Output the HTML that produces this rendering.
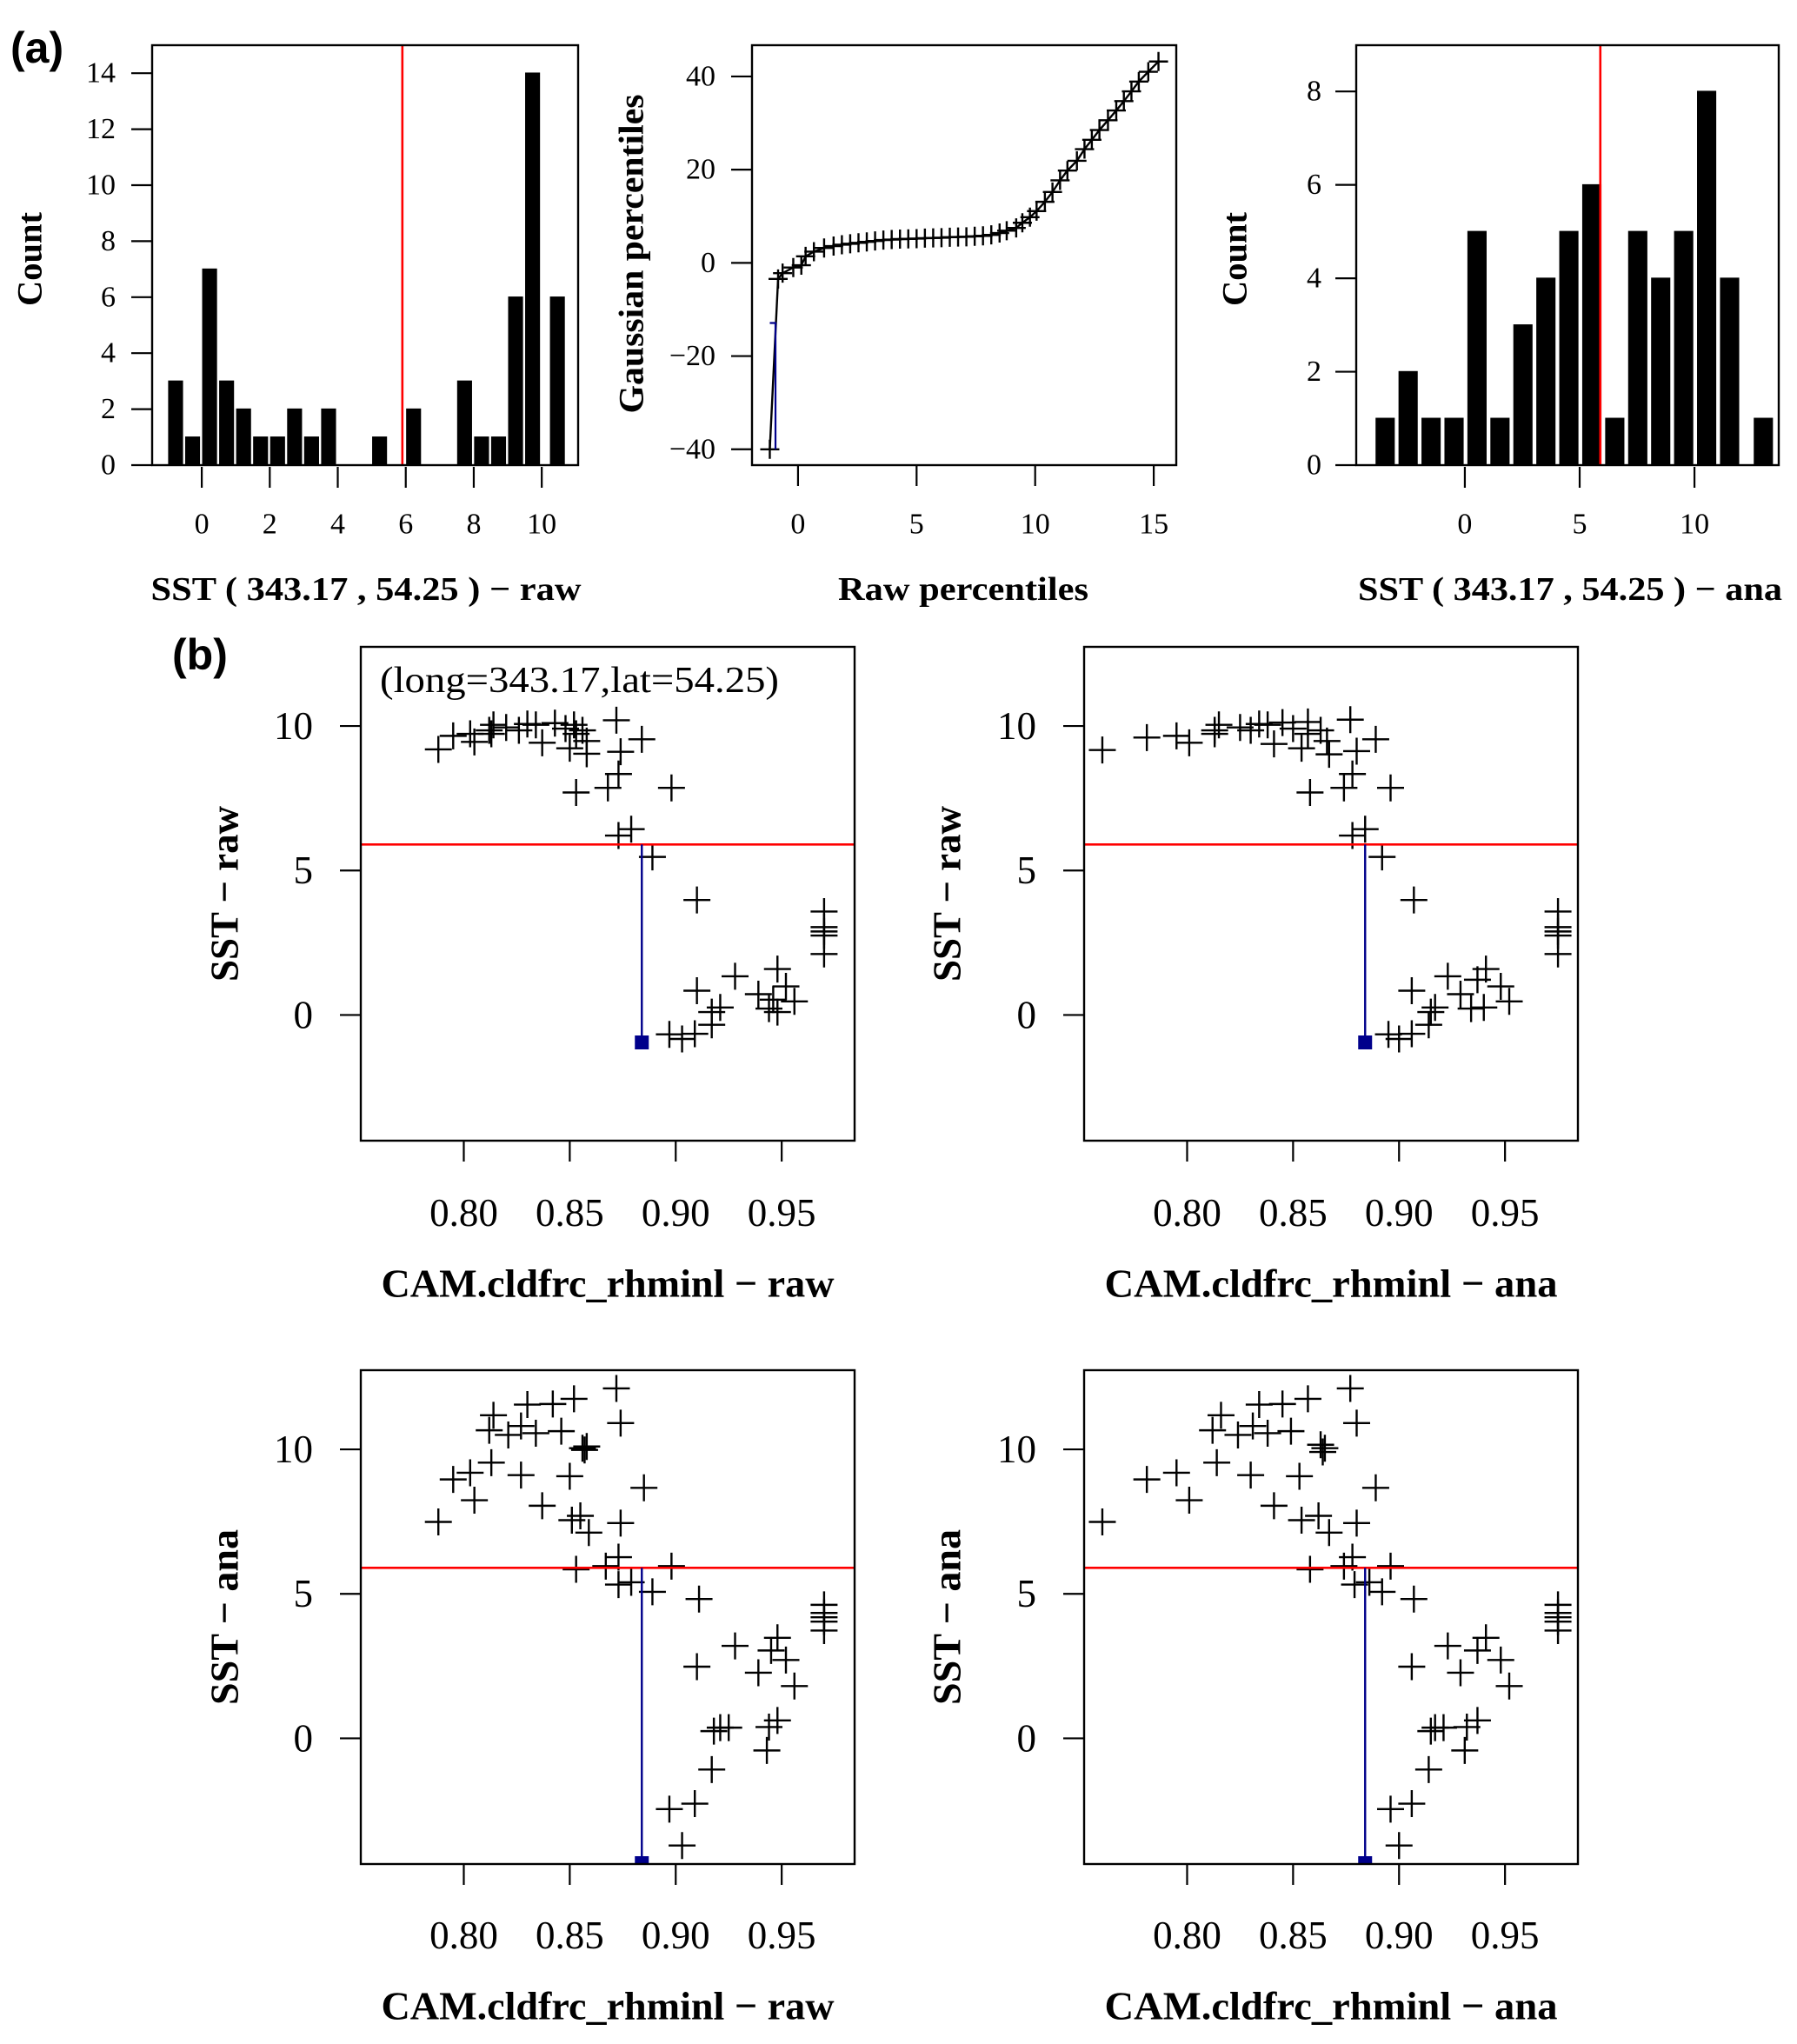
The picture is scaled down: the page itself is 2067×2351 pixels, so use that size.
<!DOCTYPE html>
<html><head><meta charset="utf-8">
<style>
html,body{margin:0;padding:0;background:#fff;}
svg{display:block;}
text{font-family:"Liberation Serif",serif;fill:#000;}
.bold{font-weight:bold;}
.sans{font-family:"Liberation Sans",sans-serif;font-weight:bold;}
</style></head>
<body>
<svg id="fig" width="2067" height="2351" viewBox="0 0 2067 2351" xmlns="http://www.w3.org/2000/svg"></svg>
<script>
// ---------- DATA ----------
const a1Centers=[-0.77,-0.27,0.23,0.73,1.23,1.73,2.23,2.73,3.23,3.73,5.23,6.23,7.73,8.23,8.73,9.23,9.73,10.46];
const a1Counts=[3,1,7,3,2,1,1,2,1,2,1,2,3,1,1,6,14,6];
const a1XTicks=[0,2,4,6,8,10];
const a1YTicks=[0,2,4,6,8,10,12,14];
const a3Centers=[-3.47,-2.47,-1.47,-0.47,0.53,1.53,2.53,3.53,4.53,5.53,6.53,7.53,8.53,9.53,10.53,11.53,13.0];
const a3Counts=[1,2,1,1,5,1,3,4,5,6,1,5,4,5,8,4,1];
const a3XTicks=[0,5,10];
const a3YTicks=[0,2,4,6,8];
const threshold=5.9;
const qqRaw=[-1.19,-0.84,-0.65,-0.2,0.14,0.32,0.67,1.1,1.5,1.85,2.2,2.55,2.9,3.25,3.6,3.95,4.3,4.65,5.0,5.35,5.7,6.05,6.4,6.75,7.1,7.45,7.8,8.15,8.5,8.8,9.2,9.46,9.78,10.06,10.41,10.73,11.05,11.36,11.76,12.08,12.39,12.71,13.07,13.42,13.74,14.06,14.37,14.77,15.2];
const qqGauss=[-40,-3.45,-2.2,-1.0,-0.5,1.4,2.4,3.2,3.6,3.9,4.1,4.3,4.5,4.7,4.9,5.0,5.1,5.15,5.2,5.3,5.35,5.4,5.5,5.55,5.6,5.7,5.8,6.0,6.4,6.9,7.5,8.6,9.8,11.1,13.1,15.2,17.7,19.8,21.9,24.4,26.4,28.5,30.6,32.7,34.7,36.8,38.9,41.0,43.2];
const qqXTicks=[0,5,10,15];
const qqYTicks=[-40,-20,0,20,40];
const qqBlueX=-0.95, qqBlueTop=-12.9, qqBlueBottom=-40;
const cldXTicks=[0.80,0.85,0.90,0.95];
const sstYTicks=[0,5,10];
const b1x=[0.788,0.795,0.803,0.805,0.812,0.814,0.813,0.820,0.826,0.830,0.834,0.837,0.843,0.848,0.850,0.852,0.853,0.856,0.858,0.858,0.853,0.868,0.873,0.872,0.874,0.884,0.898,0.873,0.879,0.889,0.910,0.910,0.928,0.917,0.921,0.917,0.909,0.903,0.897,0.939,0.944,0.948,0.948,0.946,0.952,0.956,0.970,0.970,0.970,0.970,0.970];
const b1y=[9.19,9.66,9.73,9.45,9.85,10.04,9.73,9.95,9.85,10.07,10.04,9.42,10.10,9.91,9.23,10.04,9.73,9.85,9.48,9.04,7.70,7.86,8.34,10.20,9.11,9.54,7.86,6.21,6.43,5.47,3.98,0.84,1.34,0.10,0.26,-0.34,-0.65,-0.83,-0.67,0.72,0.22,1.59,0.10,0.53,0.99,0.47,3.58,3.04,2.89,2.75,2.11];
const b2x=[0.760,0.781,0.795,0.801,0.813,0.815,0.813,0.825,0.830,0.834,0.838,0.841,0.845,0.850,0.854,0.857,0.857,0.863,0.866,0.867,0.858,0.874,0.878,0.877,0.880,0.889,0.896,0.878,0.884,0.892,0.907,0.906,0.923,0.917,0.915,0.914,0.906,0.900,0.895,0.929,0.934,0.941,0.940,0.937,0.948,0.952,0.975,0.975,0.975,0.975,0.975];
const b2y=[9.17,9.60,9.66,9.42,9.85,10.04,9.73,9.95,9.85,10.07,10.04,9.38,10.12,9.91,9.23,10.14,9.73,9.85,9.48,9.02,7.70,7.86,8.34,10.22,9.13,9.54,7.86,6.21,6.43,5.47,3.98,0.84,1.34,0.26,0.10,-0.34,-0.65,-0.83,-0.67,0.72,0.22,1.59,0.26,1.22,0.99,0.47,3.58,3.04,2.89,2.75,2.11];
const b3x=[0.788,0.795,0.803,0.805,0.813,0.814,0.812,0.821,0.827,0.827,0.830,0.834,0.837,0.842,0.846,0.850,0.852,0.851,0.855,0.856,0.858,0.857,0.859,0.872,0.874,0.874,0.885,0.873,0.867,0.853,0.873,0.879,0.889,0.898,0.911,0.928,0.910,0.948,0.945,0.939,0.952,0.956,0.948,0.944,0.921,0.918,0.925,0.943,0.917,0.909,0.897,0.903,0.970,0.970,0.970,0.970,0.970];
const b3y=[7.49,8.96,9.19,8.24,9.54,11.18,10.66,10.50,10.81,9.11,11.55,10.56,8.05,11.57,10.63,9.07,11.75,7.55,7.70,10.04,10.10,9.98,7.12,12.11,10.91,7.45,8.67,6.27,5.96,5.85,5.32,5.40,5.07,5.96,4.82,3.20,2.48,3.48,3.04,2.27,2.71,1.81,0.62,0.39,0.37,0.25,0.37,-0.42,-1.08,-2.26,-2.45,-3.71,4.62,4.34,4.19,4.04,3.73];
const b4x=[0.760,0.781,0.795,0.801,0.814,0.816,0.812,0.824,0.831,0.830,0.834,0.838,0.841,0.845,0.849,0.853,0.857,0.854,0.862,0.863,0.865,0.864,0.867,0.877,0.880,0.880,0.889,0.878,0.874,0.858,0.879,0.886,0.892,0.896,0.907,0.923,0.906,0.941,0.937,0.929,0.948,0.952,0.937,0.932,0.917,0.915,0.921,0.931,0.914,0.906,0.896,0.900,0.975,0.975,0.975,0.975,0.975];
const b4y=[7.49,8.96,9.19,8.24,9.54,11.18,10.66,10.50,10.81,9.11,11.55,10.56,8.05,11.57,10.63,9.07,11.75,7.55,7.70,10.16,10.04,9.91,7.12,12.11,10.91,7.45,8.67,6.27,5.96,5.85,5.32,5.40,5.07,5.96,4.82,3.20,2.48,3.48,3.04,2.27,2.71,1.81,0.62,0.39,0.37,0.25,0.37,-0.42,-1.08,-2.26,-2.45,-3.71,4.62,4.34,4.19,4.04,3.73];
const blueX=0.884, rawBlueBottom=-0.95, anaBlueBottom=-4.35;
const cldLimits=[0.7514,0.9844];
const sstLimits=[-4.35,12.74];

// ---------- HELPERS ----------
const NS='http://www.w3.org/2000/svg';
const svg=document.getElementById('fig');
function mk(tag,attrs,parent,txt){const e=document.createElementNS(NS,tag);for(const k in attrs)e.setAttribute(k,attrs[k]);if(txt!==undefined)e.textContent=txt;(parent||svg).appendChild(e);return e;}
function lin(d0,d1,p0,p1){return v=>p0+(v-d0)*(p1-p0)/(d1-d0);}
function group(name){const g=mk('g',{});


return g;}
function frame(g,L,T,R,B){const r=mk('rect',{x:L,y:T,width:R-L,height:B-T,fill:'none',stroke:'#000','stroke-width':2.4},g);

}
function xTicks(g,ticks,sx,B,labY,fs,fmt){ticks.forEach(t=>{const x=sx(t);const l=mk('line',{x1:x,y1:B,x2:x,y2:B+24,stroke:'#000','stroke-width':2.2},g);


const tx=mk('text',{x:x,y:labY,'text-anchor':'middle','font-size':fs,'dominant-baseline':'central'},g,fmt?fmt(t):String(t));

});}
function yTicks(g,ticks,sy,L,labR,fs){ticks.forEach(t=>{const y=sy(t);const l=mk('line',{x1:L-24,y1:y,x2:L,y2:y,stroke:'#000','stroke-width':2.2},g);


const lab=String(t).replace('-','\u2212');
const tx=mk('text',{x:labR,y:y,'text-anchor':'end','font-size':fs,'dominant-baseline':'central'},g,lab);

});}
function xTitle(g,txt,cx,cy,fs,len){const t=mk('text',{x:cx,y:cy,'text-anchor':'middle','dominant-baseline':'central','font-size':fs,'class':'bold',textLength:len,lengthAdjust:'spacingAndGlyphs'},g,txt);

}
function yTitle(g,txt,cx,cy,fs,len){const t=mk('text',{x:0,y:0,'text-anchor':'middle','dominant-baseline':'central','font-size':fs,'class':'bold',textLength:len,lengthAdjust:'spacingAndGlyphs',transform:`translate(${cx},${cy}) rotate(-90)`},g,txt);

}
function cross(g,x,y,h){const p=mk('path',{d:`M${x-h},${y}H${x+h}M${x},${y-h}V${y+h}`,stroke:'#000','stroke-width':2.4,fill:'none'},g);

}

// ---------- PANEL LABELS ----------
let t=mk('text',{x:12,y:72,'font-size':50,'class':'sans'},svg,'(a)');


t=mk('text',{x:198,y:770,'font-size':50,'class':'sans'},svg,'(b)');



// ---------- HISTOGRAMS ----------
function hist(name,L,T,R,B,xd,ytop,centers,counts,bw,xt,yt,labR,title,tcx,tlen,ylab,ycx){
  const g=group(name);
  const sx=lin(xd[0],xd[1],L,R), sy=lin(0,ytop,B,T);
  centers.forEach((c,i)=>{const x0=sx(c-bw/2),x1=sx(c+bw/2);
    const r=mk('rect',{x:x0,y:sy(counts[i]),width:x1-x0,height:B-sy(counts[i]),fill:'#000',stroke:'#000','stroke-width':1.5},g);
    
    });
  const rl=mk('line',{x1:sx(threshold),y1:T,x2:sx(threshold),y2:B,stroke:'#ff0000','stroke-width':2.6},g);
  
  
  frame(g,L,T,R,B);
  xTicks(g,xt,sx,B+2,603,34);
  yTicks(g,yt,sy,L,labR,34);
  xTitle(g,title,tcx,678,38,tlen);
  yTitle(g,ylab,ycx,298,40,108);
}
hist('histogram-raw',175,52,665,535,[-1.46,11.07],15.0,a1Centers,a1Counts,0.4,a1XTicks,a1YTicks,133,'SST ( 343.17 , 54.25 ) \u2212 raw',421,495,'Count',34);
hist('histogram-ana',1560,52,2046,535,[-4.73,13.67],8.99,a3Centers,a3Counts,0.78,a3XTicks,a3YTicks,1520,'SST ( 343.17 , 54.25 ) \u2212 ana',1806,488,'Count',1420);

// ---------- QQ PLOT ----------
(function(){
  const g=group('qq-plot');
  const L=865,T=52,R=1353,B=535;
  const sx=lin(-1.94,15.95,L,R), sy=lin(-43.4,46.7,B,T);
  const pts=qqRaw.map((v,i)=>sx(v)+','+sy(qqGauss[i])).join(' ');
  const pl=mk('polyline',{points:pts,fill:'none',stroke:'#000','stroke-width':2.4},g);
  
  
  qqRaw.forEach((v,i)=>cross(g,sx(v),sy(qqGauss[i]),11));
  const bl=mk('path',{d:`M${sx(-1.19)},${sy(qqBlueTop)}H${sx(qqBlueX)}V${sy(qqBlueBottom)}`,fill:'none',stroke:'#00008b','stroke-width':2.2},g);
  
  
  frame(g,L,T,R,B);
  xTicks(g,qqXTicks,sx,B,603,34);
  yTicks(g,qqYTicks,sy,L,823,34);
  xTitle(g,'Raw percentiles',1108,678,38,288);
  yTitle(g,'Gaussian percentiles',726,292,40,367);
})();

// ---------- SCATTER PLOTS ----------
function scatter(name,L,T,R,B,xs,ys,blueBottom,labR,xlabY,title,titleY,ylab,ycx,note){
  const g=group(name);
  const sx=lin(cldLimits[0],cldLimits[1],L,R), sy=lin(sstLimits[0],sstLimits[1],B,T);
  xs.forEach((v,i)=>cross(g,sx(v),sy(ys[i]),15.5));
  const rl=mk('line',{x1:L,y1:sy(threshold),x2:R,y2:sy(threshold),stroke:'#ff0000','stroke-width':2.6},g);
  
  
  const bx=sx(blueX), by=sy(blueBottom);
  const bl=mk('line',{x1:bx,y1:sy(threshold),x2:bx,y2:by,stroke:'#00008b','stroke-width':2.4},g);
  
  
  const sqTop=Math.min(by-8,B-9);
  const sq=mk('rect',{x:bx-8,y:sqTop,width:16,height:Math.min(16,B-sqTop),fill:'#00008b'},g);
  
  
  frame(g,L,T,R,B);
  xTicks(g,cldXTicks,sx,B,xlabY,45,v=>v.toFixed(2));
  yTicks(g,sstYTicks,sy,L,labR,45);
  xTitle(g,title,(L+R)/2,titleY,46,521);
  yTitle(g,ylab,ycx,(T+B)/2,46,202);
  if(note){const n=mk('text',{x:437,y:783,'font-size':42,'dominant-baseline':'central',textLength:459,lengthAdjust:'spacingAndGlyphs'},g,note);
    
    }
}
scatter('scatter-raw-raw',415,744,983,1312,b1x,b1y,rawBlueBottom,360,1395,'CAM.cldfrc_rhminl \u2212 raw',1476,'SST \u2212 raw',258,'(long=343.17,lat=54.25)');
scatter('scatter-ana-raw',1247,744,1815,1312,b2x,b2y,rawBlueBottom,1192,1395,'CAM.cldfrc_rhminl \u2212 ana',1476,'SST \u2212 raw',1089,null);
scatter('scatter-raw-ana',415,1576,983,2144,b3x,b3y,anaBlueBottom,360,2226,'CAM.cldfrc_rhminl \u2212 raw',2307,'SST \u2212 ana',258,null);
scatter('scatter-ana-ana',1247,1576,1815,2144,b4x,b4y,anaBlueBottom,1192,2226,'CAM.cldfrc_rhminl \u2212 ana',2307,'SST \u2212 ana',1089,null);
</script>
</body></html>
